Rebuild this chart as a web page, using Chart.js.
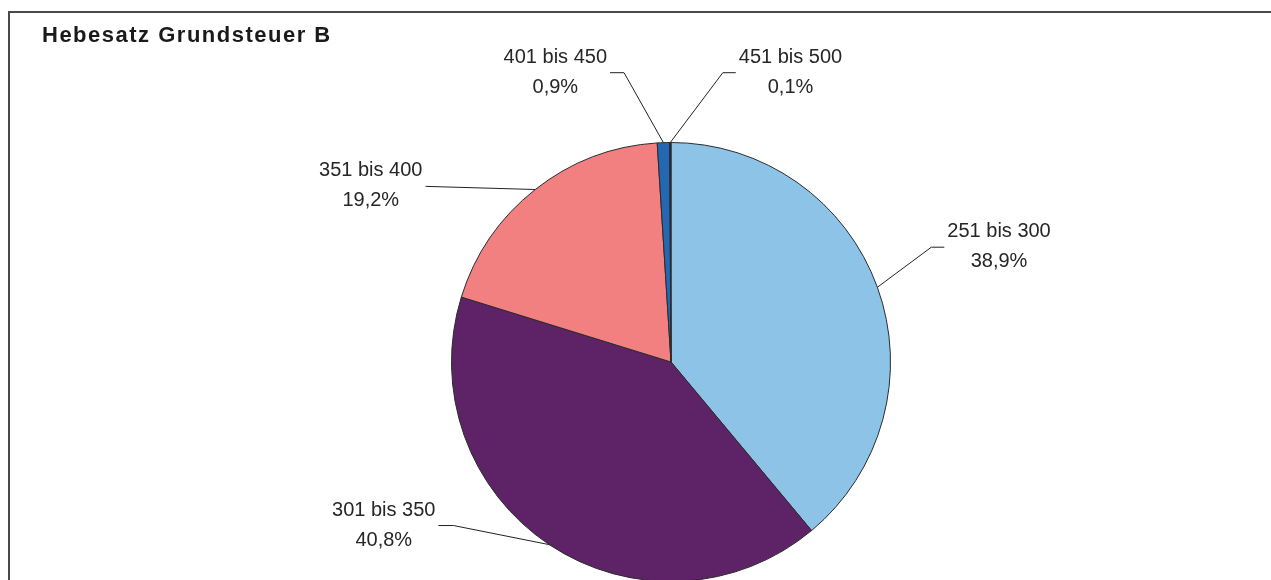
<!DOCTYPE html>
<html lang="de">
<head>
  <meta charset="UTF-8" />
  <title>Hebesatz Grundsteuer B</title>
  <style>
    html, body {
      margin: 0;
      padding: 0;
      background: #ffffff;
      overflow: hidden;
      width: 1271px;
      height: 580px;
    }
    .frame {
      position: absolute;
      left: 8px;
      top: 11px;
      width: 1300px;
      height: 600px;
      border-top: 2px solid #4a4a4a;
      border-left: 2px solid #4a4a4a;
    }
    #chart {
      position: absolute;
      left: 0;
      top: 0;
    }
  </style>
</head>
<body>
  <div class="frame"></div>
  <canvas id="chart" width="1271" height="600"></canvas>

  <script src="https://cdn.jsdelivr.net/npm/chart.js"></script>
  <script>
    // Daten
    const categories = ['251 bis 300', '301 bis 350', '351 bis 400', '401 bis 450', '451 bis 500'];
    const shares = [38.9, 40.8, 19.2, 0.9, 0.1];
    const sliceColors = ['#8ec3e8', '#5d2366', '#f38080', '#2467b3', '#1b2f63'];

    // Lage der Beschriftungen (Knick relativ zum Mittelpunkt, in Radien; tail = waagrechtes Stück)
    const labelLayout = [
      { elbow: [1.186, -0.523], tail: 13 },
      { elbow: [-0.991, 0.745], tail: -15 },
      { elbow: [-1.114, -0.8], tail: -1 },
      { elbow: [-0.214, -1.318], tail: -14 },
      { elbow: [0.236, -1.318], tail: 13 }
    ];

    const fmt = v => v.toFixed(1).replace('.', ',') + '%';

    const titlePlugin = {
      id: 'boxTitle',
      afterDraw(chart) {
        const ctx = chart.ctx;
        ctx.save();
        ctx.font = 'bold 22px "Liberation Sans", Arial, sans-serif';
        ctx.letterSpacing = '1.5px';
        ctx.fillStyle = '#1a1a1a';
        ctx.textBaseline = 'alphabetic';
        ctx.fillText('Hebesatz Grundsteuer B', 42, 42);
        ctx.restore();
      }
    };

    const labelPlugin = {
      id: 'sliceLabels',
      afterDatasetsDraw(chart) {
        const ctx = chart.ctx;
        const meta = chart.getDatasetMeta(0);
        ctx.save();
        ctx.font = '20px "Liberation Sans", Arial, sans-serif';
        ctx.strokeStyle = '#222';
        ctx.lineWidth = 1;
        ctx.fillStyle = '#262626';
        ctx.textAlign = 'center';
        meta.data.forEach((arc, i) => {
          const p = arc.getProps(['x', 'y', 'outerRadius', 'startAngle', 'endAngle'], true);
          const mid = (p.startAngle + p.endAngle) / 2;
          const ax = p.x + Math.cos(mid) * p.outerRadius;
          const ay = p.y + Math.sin(mid) * p.outerRadius;
          const lay = labelLayout[i];
          const ex = p.x + lay.elbow[0] * p.outerRadius;
          const ey = p.y + lay.elbow[1] * p.outerRadius;
          const tx = ex + lay.tail;

          ctx.beginPath();
          ctx.moveTo(ax, ay);
          ctx.lineTo(ex, ey);
          ctx.lineTo(tx, ey);
          ctx.stroke();

          const l1 = categories[i];
          const l2 = fmt(shares[i]);
          const w = Math.max(ctx.measureText(l1).width, ctx.measureText(l2).width);
          const side = lay.tail >= 0 ? 1 : -1;
          const cx = tx + side * (w / 2 + 3);
          ctx.fillText(l1, cx, ey - 10);
          ctx.fillText(l2, cx, ey + 20);
        });
        ctx.restore();
      }
    };

    new Chart(document.getElementById('chart').getContext('2d'), {
      type: 'pie',
      data: {
        labels: categories,
        datasets: [{
          data: shares,
          backgroundColor: sliceColors,
          borderColor: '#2b2b2b',
          borderWidth: 1
        }]
      },
      options: {
        responsive: false,
        animation: false,
        devicePixelRatio: 1,
        layout: { padding: { left: 451, right: 380, top: 142, bottom: 18 } },
        plugins: {
          legend: { display: false },
          tooltip: { enabled: false },
          title: { display: false }
        }
      },
      plugins: [titlePlugin, labelPlugin]
    });
  </script>
</body>
</html>
